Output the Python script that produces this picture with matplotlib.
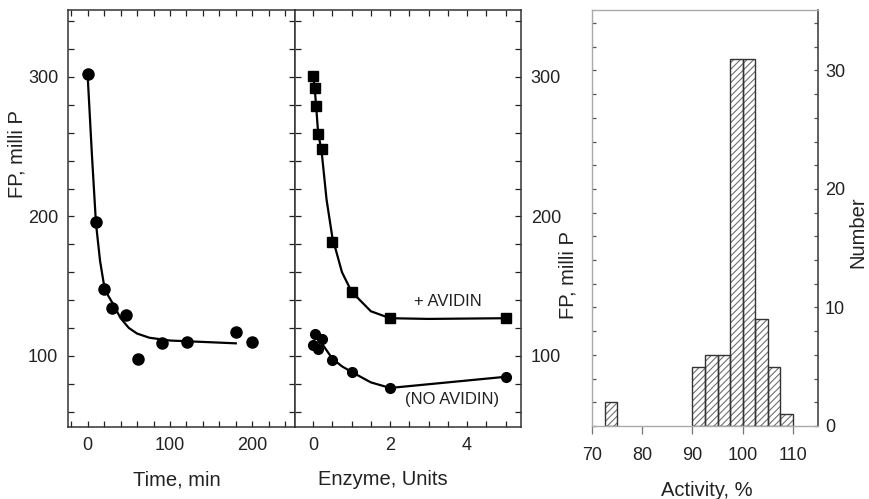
import matplotlib
matplotlib.use("Agg")
from matplotlib import pyplot as plt
from matplotlib.ticker import MultipleLocator

plt.rcParams["font.family"] = ["Liberation Sans", "DejaVu Sans"]
plt.rcParams["hatch.linewidth"] = 0.8

# left panel: FP against incubation time
time_min = [0, 10, 20, 30, 46, 61, 90, 121, 180, 200]
fp_time = [302, 196, 148, 134, 129, 98, 109, 110, 117, 110]
# fitted curve
fit_time = [0, 5, 10, 15, 20, 25, 30, 40, 50, 60, 75, 100, 140, 180]
fit_time_fp = [300, 245, 195, 168, 150, 143, 138, 127, 120, 116, 113, 111, 110, 109]

# middle panel: FP against enzyme units
enzyme_av = [0, 0.04, 0.08, 0.13, 0.22, 0.5, 1, 2, 5]
fp_av = [301, 292, 279, 259, 248, 182, 146, 127, 127]
fit_av_x = [0, 0.04, 0.08, 0.13, 0.22, 0.35, 0.5, 0.75, 1, 1.5, 2, 3, 5]
fit_av_y = [301, 292, 279, 260, 247, 212, 185, 160, 146, 132, 127, 126.5, 127]

enzyme_no = [0, 0.06, 0.12, 0.23, 0.5, 1, 2, 5]
fp_no = [108, 115.5, 105, 112, 97, 88.5, 77, 85]
fit_no_x = [0.15, 0.25, 0.5, 0.75, 1, 1.5, 2, 3.5, 5]
fit_no_y = [113, 108, 98, 92.5, 88.5, 81, 77, 81, 85]

# right panel: histogram of activity
bin_left = [72.5, 90, 92.5, 95, 97.5, 100, 102.5, 105, 107.5]
counts = [2, 5, 6, 6, 31, 31, 9, 5, 1]

fig = plt.figure(figsize=(8.69, 4.99), dpi=100)
W, H = 869.0, 499.0
ax1 = fig.add_axes([68 / W, 1 - 427 / H, 227 / W, 417 / H])
ax2 = fig.add_axes([295 / W, 1 - 427 / H, 226 / W, 417 / H])
ax3 = fig.add_axes([592 / W, 1 - 426 / H, 226 / W, 416 / H])

dark = "#222222"
tick_fs = 13
label_fs = 14.5

# ---- panel 1
ax1.plot(fit_time, fit_time_fp, color="black", lw=1.6)
ax1.plot(time_min, fp_time, "o", color="black", ms=8)
ax1.set_xlim(-24, 252)
ax1.set_ylim(49, 348)
ax1.xaxis.set_major_locator(MultipleLocator(100))
ax1.xaxis.set_minor_locator(MultipleLocator(20))
ax1.yaxis.set_major_locator(MultipleLocator(100))
ax1.yaxis.set_minor_locator(MultipleLocator(20))
ax1.tick_params(which="both", direction="in", top=True, right=True,
                length=4.5, width=0.9, color=dark)
ax1.tick_params(axis="both", labelsize=tick_fs, colors=dark, pad=7)
ax1.text(-0.225, 0.655, "FP, milli P", transform=ax1.transAxes,
         rotation=90, ha="center", va="center", fontsize=label_fs, color=dark)
ax1.text(0.48, -0.127, "Time, min", transform=ax1.transAxes,
         ha="center", va="center", fontsize=label_fs, color=dark)

# ---- panel 2
ax2.plot(fit_av_x, fit_av_y, color="black", lw=1.6)
ax2.plot(enzyme_av, fp_av, "s", color="black", ms=6.5)
ax2.plot(fit_no_x, fit_no_y, color="black", lw=1.6)
ax2.plot(enzyme_no, fp_no, "o", color="black", ms=7)
ax2.set_xlim(-0.47, 5.4)
ax2.set_ylim(49, 348)
ax2.xaxis.set_major_locator(MultipleLocator(2))
ax2.xaxis.set_minor_locator(MultipleLocator(0.5))
ax2.yaxis.set_major_locator(MultipleLocator(100))
ax2.yaxis.set_minor_locator(MultipleLocator(20))
ax2.tick_params(which="both", direction="in", top=True, left=True, right=True,
                length=4.5, width=0.9, color=dark)
ax2.tick_params(axis="both", labelsize=tick_fs, colors=dark, pad=7)
ax2.tick_params(axis="y", labelleft=False, labelright=True)
ax2.text(3.5, 139, "+ AVIDIN", ha="center", va="center", fontsize=12, color=dark)
ax2.text(3.6, 69, "(NO AVIDIN)", ha="center", va="center", fontsize=12, color=dark)
ax2.text(1.208, 0.365, "FP, milli P", transform=ax2.transAxes,
         rotation=90, ha="center", va="center", fontsize=label_fs, color=dark)
ax2.text(0.39, -0.127, "Enzyme, Units", transform=ax2.transAxes,
         ha="center", va="center", fontsize=label_fs, color=dark)

for ax in (ax1, ax2):
    for s in ax.spines.values():
        s.set_color("#333333")
        s.set_linewidth(1.1)

# ---- panel 3
ax3.bar(bin_left, counts, width=2.5, align="edge", color="white",
        edgecolor="#707070", hatch="/////", linewidth=0)
ax3.bar(bin_left, counts, width=2.5, align="edge", fill=False,
        edgecolor="#333333", linewidth=1.0)
ax3.set_xlim(70, 115)
ax3.set_ylim(0, 35.1)
ax3.xaxis.set_major_locator(MultipleLocator(10))
ax3.yaxis.set_major_locator(MultipleLocator(10))
ax3.yaxis.set_minor_locator(MultipleLocator(2))
ax3.tick_params(axis="x", direction="out", length=6, width=0.9,
                color="#777777", labelsize=tick_fs, labelcolor=dark, pad=9)
ax3.tick_params(axis="y", which="both", direction="in", left=True, right=True,
                labelleft=False, labelright=True, length=3, width=0.9,
                color="#555555", labelsize=tick_fs, labelcolor=dark, pad=5)
for side in ("left", "top", "bottom"):
    ax3.spines[side].set_color("#aaaaaa")
    ax3.spines[side].set_linewidth(1.0)
ax3.spines["right"].set_color("#444444")
ax3.spines["right"].set_linewidth(1.2)
ax3.text(1.175, 0.466, "Number", transform=ax3.transAxes,
         rotation=90, ha="center", va="center", fontsize=label_fs, color=dark)
ax3.text(0.509, -0.154, "Activity, %", transform=ax3.transAxes,
         ha="center", va="center", fontsize=label_fs, color=dark)

fig.savefig("out.png", dpi=100)
